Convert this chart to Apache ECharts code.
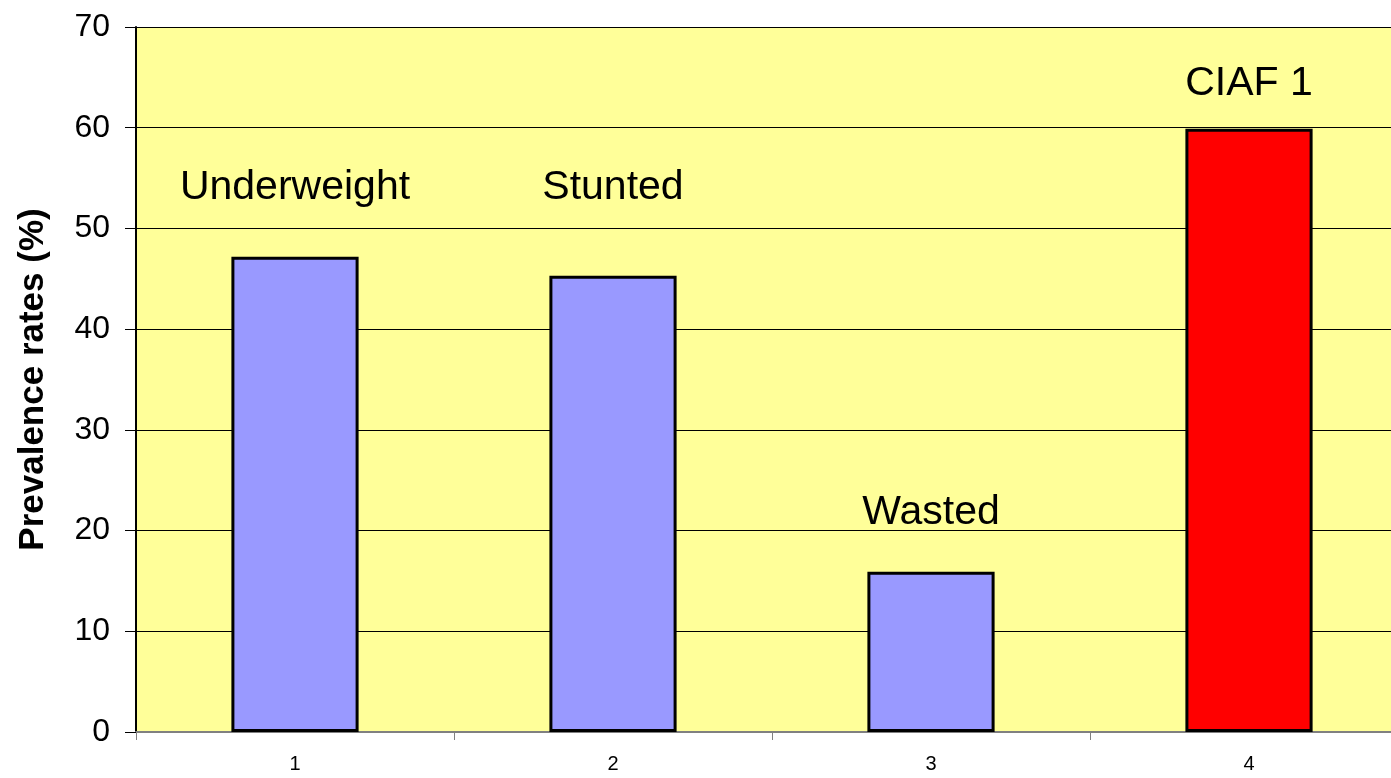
<!DOCTYPE html>
<html>
<head>
<meta charset="utf-8">
<title>Prevalence rates</title>
<script src="https://cdn.jsdelivr.net/npm/echarts@6/dist/echarts.min.js"></script>
<style>
  html, body { margin: 0; padding: 0; background: #ffffff; overflow: hidden; }
  #chart { width: 1410px; height: 778px; }
</style>
</head>
<body>
<div id="chart"></div>
<script>
// Category ticks along the x axis
const categories = ['1', '2', '3', '4'];
// Prevalence rate (%) for each indicator
const values = [47.2, 45.3, 15.9, 59.9];
// Indicator names written above the bars, and the height (in %) they sit at
const indicatorNames = ['Underweight', 'Stunted', 'Wasted', 'CIAF 1'];
const nameHeights = [54.0, 54.0, 21.8, 64.4];
// Y axis range and step
const yMin = 0, yMax = 70, yStep = 10;

const barColors = ['#9999FF', '#9999FF', '#9999FF', '#FF0000'];
const font = 'Liberation Sans, Arial, sans-serif';

const chart = echarts.init(document.getElementById('chart'), null, { renderer: 'canvas' });

chart.setOption({
  animation: false,
  backgroundColor: '#ffffff',
  grid: {
    left: 136, top: 27, bottom: 46, right: 2,
    show: true, backgroundColor: '#FFFF99', borderWidth: 0
  },
  xAxis: {
    type: 'category',
    data: categories,
    boundaryGap: true,
    axisLine: { show: true, lineStyle: { color: '#808080', width: 2 } },
    axisTick: { show: true, alignWithLabel: false, length: 8, lineStyle: { color: '#808080', width: 1 } },
    axisLabel: { color: '#000', fontFamily: font, fontSize: 20, margin: 22 },
    splitLine: { show: false }
  },
  yAxis: {
    type: 'value',
    min: yMin, max: yMax, interval: yStep,
    name: 'Prevalence rates (%)',
    nameLocation: 'middle',
    nameRotate: 90,
    nameGap: 85,
    nameTextStyle: { color: '#000', fontFamily: font, fontSize: 35, fontWeight: 'bold' },
    axisLine: { show: true, lineStyle: { color: '#000', width: 2 } },
    axisTick: { show: true, length: 11, lineStyle: { color: '#000', width: 1 } },
    axisLabel: { color: '#000', fontFamily: font, fontSize: 32, margin: 26 },
    splitLine: { show: true, lineStyle: { color: '#000', width: 1 } }
  },
  series: [
    {
      type: 'bar',
      barWidth: '40%',
      data: values.map((v, i) => ({
        value: v,
        itemStyle: { color: barColors[i], borderColor: '#000', borderWidth: 3 }
      })),
      z: 3
    },
    {
      type: 'scatter',
      symbolSize: 0,
      itemStyle: { opacity: 1 },
      data: nameHeights.map((h, i) => [i, h]),
      label: {
        show: true,
        position: 'inside',
        formatter: p => indicatorNames[p.dataIndex],
        color: '#000',
        textBorderWidth: 0,
        textBorderColor: 'transparent',
        fontFamily: font,
        fontSize: 41
      },
      z: 4
    }
  ]
});
</script>
</body>
</html>
